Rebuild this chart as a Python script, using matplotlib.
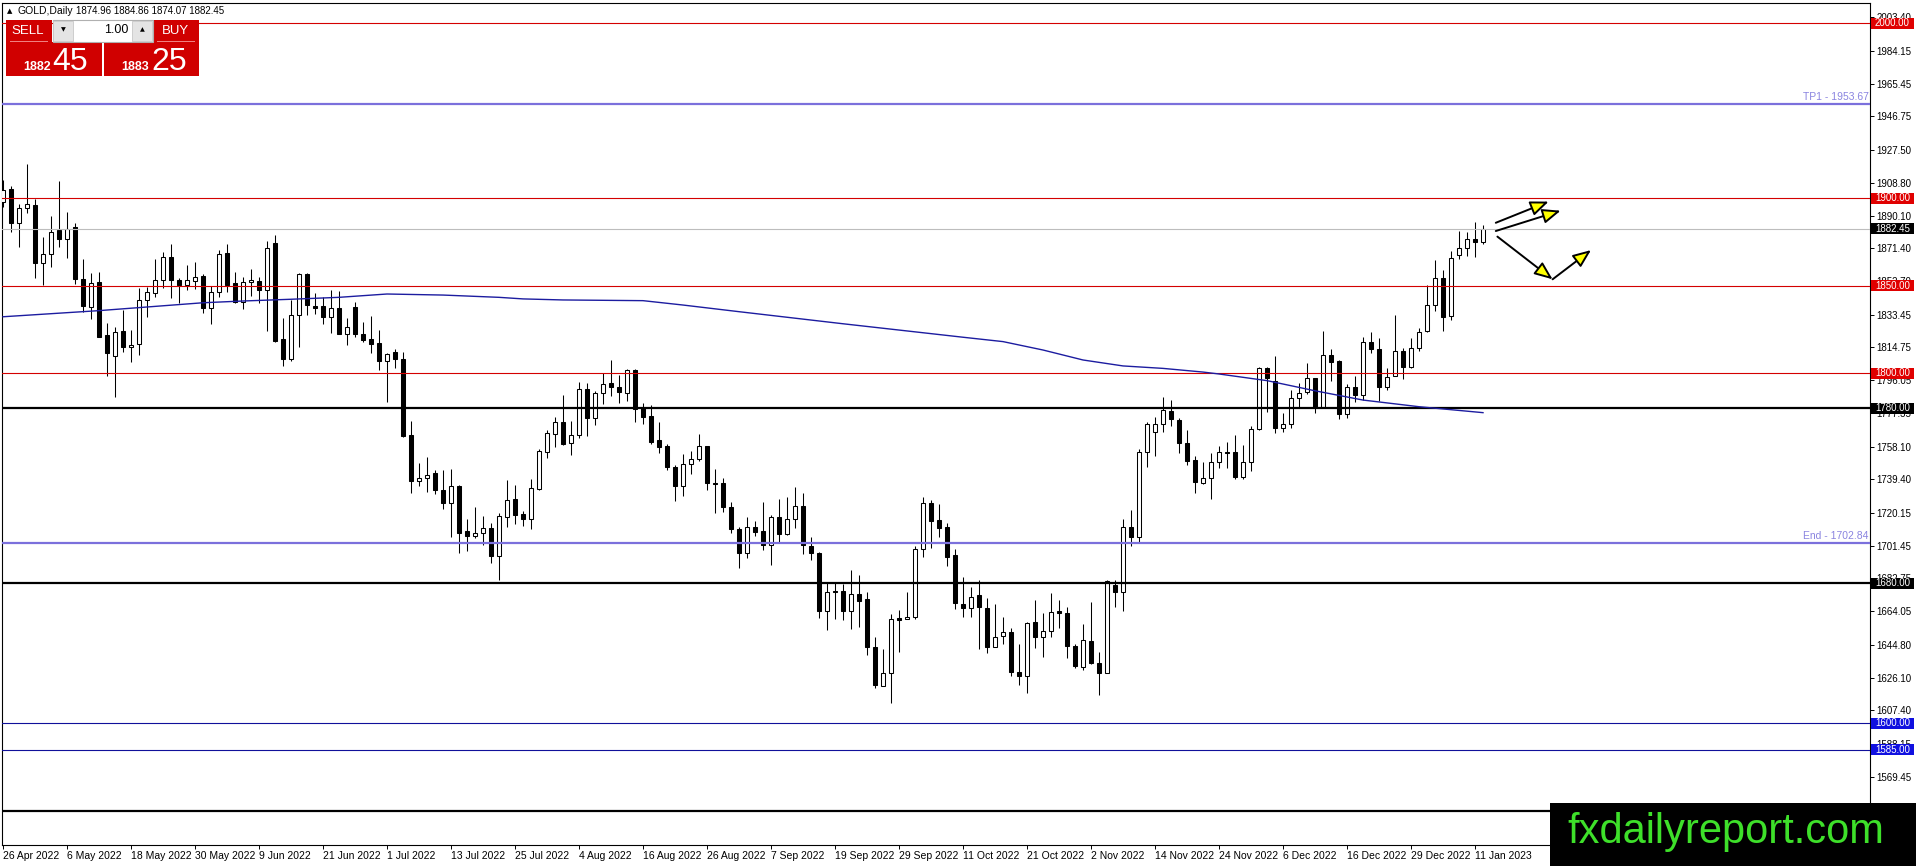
import matplotlib
matplotlib.use("Agg")
import matplotlib.pyplot as plt
import matplotlib.transforms as mtransforms
from matplotlib.patches import Rectangle, FancyArrowPatch
import numpy as np

plt.rcParams['font.family'] = ['Liberation Sans', 'DejaVu Sans']

# daily candles, 26 Apr 2022 .. 12 Jan 2023
opens = [1897.7, 1905.1, 1885.7, 1894.3, 1896.1, 1862.8, 1867.9, 1881.9, 1876.6, 1883.4,
         1853.7, 1837.7, 1852.0, 1821.9, 1810.0, 1824.2, 1814.8, 1816.5, 1841.7, 1845.7,
         1853.1, 1866.4, 1853.3, 1850.6, 1852.6, 1855.8, 1837.1, 1846.3, 1868.7, 1851.4,
         1840.9, 1852.0, 1852.7, 1847.4, 1874.3, 1819.6, 1808.0, 1833.1, 1856.7, 1838.5,
         1838.5, 1832.3, 1837.1, 1822.3, 1837.7, 1822.3, 1819.6, 1817.1, 1806.8, 1812.0,
         1808.0, 1764.7, 1738.6, 1740.0, 1743.2, 1733.3, 1725.7, 1735.6, 1709.9, 1707.0,
         1708.6, 1711.4, 1695.6, 1718.0, 1728.0, 1719.6, 1716.9, 1733.9, 1755.2, 1765.1,
         1772.0, 1760.3, 1764.7, 1791.0, 1774.3, 1788.6, 1794.3, 1792.0, 1788.9, 1801.9,
         1780.3, 1775.6, 1761.9, 1758.6, 1746.6, 1735.6, 1748.2, 1750.9, 1758.5, 1737.5,
         1737.1, 1723.8, 1711.0, 1697.1, 1712.2, 1709.9, 1701.9, 1717.9, 1708.3, 1716.5,
         1724.0, 1701.3, 1697.5, 1664.3, 1675.2, 1675.6, 1664.3, 1673.9, 1671.0, 1643.4,
         1621.5, 1628.6, 1660.0, 1659.8, 1660.9, 1699.4, 1725.7, 1716.2, 1712.0, 1696.2,
         1668.2, 1665.7, 1673.3, 1665.7, 1643.8, 1649.9, 1652.0, 1629.1, 1627.2, 1657.7,
         1649.5, 1652.7, 1664.2, 1663.2, 1644.2, 1632.3, 1647.0, 1634.3, 1628.9, 1679.0,
         1674.8, 1712.0, 1706.3, 1755.2, 1766.3, 1770.8, 1778.4, 1773.3, 1760.0, 1750.4,
         1737.5, 1740.0, 1749.1, 1755.0, 1754.8, 1740.9, 1749.1, 1768.0, 1802.8, 1795.8,
         1768.6, 1770.8, 1785.7, 1789.1, 1797.1, 1780.9, 1810.4, 1807.0, 1776.6, 1792.3,
         1787.4, 1817.7, 1813.7, 1792.0, 1798.6, 1812.9, 1803.8, 1814.3, 1824.3, 1839.0,
         1854.3, 1832.9, 1867.6, 1871.4, 1876.6, 1874.96]
highs = [1910.4, 1907.0, 1896.7, 1919.6, 1899.4, 1877.7, 1889.9, 1909.9, 1892.3, 1886.1,
         1865.1, 1857.5, 1858.1, 1828.5, 1826.6, 1836.2, 1824.7, 1848.6, 1849.1, 1865.3,
         1869.3, 1873.9, 1854.3, 1861.9, 1863.6, 1856.6, 1850.1, 1870.4, 1873.9, 1857.7,
         1855.2, 1859.4, 1854.8, 1875.6, 1879.0, 1831.4, 1841.9, 1857.5, 1857.5, 1845.7,
         1843.4, 1847.6, 1847.2, 1831.4, 1840.6, 1829.1, 1832.6, 1824.6, 1811.8, 1813.7,
         1812.0, 1772.7, 1748.9, 1752.3, 1744.7, 1744.7, 1745.1, 1736.2, 1716.7, 1723.4,
         1718.2, 1714.3, 1720.0, 1739.0, 1736.2, 1721.5, 1739.4, 1756.6, 1767.6, 1775.2,
         1787.6, 1772.7, 1795.2, 1794.3, 1789.9, 1800.0, 1807.6, 1799.0, 1802.3, 1802.3,
         1782.8, 1781.9, 1772.3, 1759.4, 1747.6, 1753.9, 1755.8, 1765.3, 1758.5, 1745.1,
         1740.0, 1726.6, 1712.0, 1718.1, 1715.6, 1726.3, 1719.0, 1728.2, 1729.1, 1734.8,
         1731.4, 1706.6, 1698.0, 1680.0, 1680.0, 1679.4, 1687.6, 1684.7, 1675.2, 1649.1,
         1642.3, 1662.4, 1664.7, 1674.8, 1701.3, 1729.1, 1727.6, 1725.3, 1714.3, 1699.4,
         1683.4, 1678.0, 1681.9, 1671.4, 1668.2, 1660.6, 1654.3, 1645.3, 1658.1, 1670.4,
         1662.8, 1674.6, 1670.4, 1666.6, 1645.1, 1656.7, 1669.5, 1640.6, 1681.9, 1681.9,
         1716.7, 1721.9, 1756.6, 1772.3, 1775.2, 1786.3, 1784.7, 1774.6, 1767.6, 1752.7,
         1749.1, 1754.3, 1758.6, 1760.9, 1764.7, 1759.0, 1769.9, 1803.8, 1803.8, 1809.9,
         1777.1, 1790.4, 1794.3, 1806.0, 1797.1, 1824.2, 1813.7, 1807.6, 1793.9, 1798.4,
         1820.9, 1823.4, 1820.0, 1802.8, 1833.3, 1814.3, 1820.0, 1825.7, 1850.5, 1864.7,
         1859.0, 1869.9, 1881.3, 1880.9, 1886.3, 1884.86]
lows = [1895.2, 1880.9, 1871.9, 1891.8, 1854.3, 1850.5, 1860.9, 1871.9, 1865.7, 1851.0,
        1835.2, 1830.8, 1820.6, 1798.4, 1786.6, 1812.3, 1806.6, 1810.4, 1832.0, 1843.4,
        1848.9, 1842.8, 1840.3, 1847.6, 1848.0, 1834.6, 1828.0, 1843.8, 1846.6, 1840.3,
        1836.6, 1844.2, 1840.0, 1824.3, 1818.0, 1804.3, 1807.2, 1815.2, 1833.3, 1833.9,
        1828.2, 1823.2, 1822.3, 1816.3, 1820.6, 1817.9, 1811.8, 1801.9, 1783.8, 1803.2,
        1763.4, 1731.8, 1735.8, 1732.3, 1730.8, 1722.4, 1706.3, 1697.1, 1698.6, 1705.7,
        1701.9, 1691.8, 1681.9, 1712.3, 1713.9, 1712.7, 1710.8, 1733.3, 1751.8, 1758.1,
        1759.0, 1753.3, 1762.8, 1764.2, 1770.4, 1782.4, 1787.0, 1783.2, 1784.3, 1772.3,
        1771.0, 1759.4, 1754.6, 1744.7, 1727.2, 1729.9, 1742.4, 1750.0, 1733.3, 1720.0,
        1720.9, 1708.9, 1688.6, 1694.6, 1707.2, 1699.0, 1690.4, 1703.8, 1707.6, 1711.4,
        1696.7, 1693.3, 1660.0, 1653.3, 1659.4, 1659.0, 1653.7, 1655.2, 1639.0, 1620.0,
        1621.5, 1611.4, 1640.9, 1659.4, 1659.4, 1694.8, 1700.0, 1706.6, 1690.0, 1665.1,
        1660.6, 1660.9, 1642.3, 1640.0, 1643.4, 1645.3, 1627.0, 1621.9, 1617.1, 1642.8,
        1637.7, 1649.1, 1654.3, 1637.1, 1631.4, 1630.4, 1633.9, 1616.2, 1628.5, 1666.6,
        1664.3, 1701.5, 1703.8, 1746.6, 1752.9, 1766.6, 1769.9, 1754.3, 1747.6, 1731.8,
        1736.6, 1728.0, 1745.7, 1745.7, 1739.4, 1739.4, 1744.3, 1767.6, 1778.0, 1765.7,
        1766.6, 1768.6, 1780.9, 1788.2, 1777.1, 1780.6, 1795.8, 1773.7, 1774.3, 1783.8,
        1784.7, 1811.4, 1784.3, 1790.4, 1798.6, 1796.6, 1802.8, 1812.9, 1823.7, 1835.8,
        1824.3, 1830.4, 1865.1, 1867.0, 1866.6, 1874.07]
closes = [1904.7, 1885.7, 1894.3, 1896.7, 1862.8, 1867.9, 1880.6, 1876.6, 1882.6, 1853.7,
          1838.5, 1851.8, 1820.9, 1811.8, 1823.4, 1814.8, 1816.1, 1841.7, 1846.3, 1853.1,
          1866.4, 1853.1, 1850.6, 1853.1, 1855.2, 1837.1, 1846.3, 1867.9, 1850.6, 1840.9,
          1852.0, 1853.1, 1847.4, 1871.4, 1818.6, 1808.0, 1833.1, 1856.5, 1838.8, 1837.3,
          1832.3, 1837.1, 1822.3, 1826.6, 1822.3, 1819.2, 1816.9, 1806.8, 1810.8, 1808.3,
          1764.2, 1738.6, 1740.0, 1741.9, 1733.3, 1725.7, 1735.6, 1708.9, 1707.0, 1708.9,
          1711.4, 1695.6, 1718.4, 1727.6, 1719.0, 1716.9, 1734.3, 1755.8, 1765.7, 1772.0,
          1759.6, 1764.6, 1791.0, 1774.6, 1788.6, 1793.7, 1792.0, 1789.5, 1801.9, 1779.4,
          1775.2, 1760.9, 1758.1, 1746.6, 1735.6, 1748.2, 1750.9, 1758.5, 1737.5, 1736.7,
          1723.8, 1710.8, 1697.1, 1712.2, 1709.5, 1701.9, 1717.9, 1708.0, 1716.5, 1724.0,
          1701.9, 1697.3, 1664.3, 1674.8, 1675.0, 1664.3, 1673.9, 1670.0, 1643.8, 1621.9,
          1628.6, 1659.4, 1659.2, 1660.6, 1699.4, 1725.7, 1715.8, 1711.4, 1694.8, 1668.6,
          1665.7, 1672.3, 1666.3, 1643.8, 1649.5, 1652.0, 1629.1, 1627.2, 1657.5, 1649.5,
          1652.7, 1663.8, 1662.8, 1644.3, 1632.9, 1647.6, 1634.6, 1628.9, 1681.3, 1674.8,
          1712.0, 1706.3, 1755.2, 1770.8, 1770.8, 1779.0, 1773.7, 1760.0, 1750.0, 1737.7,
          1740.0, 1749.1, 1754.8, 1754.3, 1740.9, 1749.1, 1768.0, 1802.8, 1797.1, 1768.6,
          1770.8, 1785.7, 1788.6, 1797.1, 1780.6, 1810.4, 1806.6, 1776.6, 1792.3, 1787.4,
          1817.7, 1813.7, 1792.0, 1798.1, 1812.9, 1803.8, 1814.3, 1823.4, 1839.0, 1854.3,
          1832.0, 1865.7, 1871.4, 1876.6, 1874.9, 1882.45]

# moving average read at a few bars
ma_bars = [0, 12, 25, 30, 36, 42, 48, 55, 62, 65, 70, 80, 85, 92, 105,
           120, 125, 130, 135, 140, 145, 150, 152, 158, 164, 170, 177, 185]
ma_vals = [1832.3, 1835.8, 1840.3, 1841.3, 1842.3, 1843.4, 1845.3, 1844.7, 1843.4, 1842.5,
           1841.9, 1841.5, 1839.0, 1835.2, 1828.3, 1820.6, 1818.1, 1813.3, 1807.6, 1804.2,
           1802.8, 1800.7, 1799.6, 1795.8, 1790.0, 1784.7, 1780.9, 1777.5]

date_labels = ["26 Apr 2022", "6 May 2022", "18 May 2022", "30 May 2022", "9 Jun 2022",
               "21 Jun 2022", "1 Jul 2022", "13 Jul 2022", "25 Jul 2022", "4 Aug 2022",
               "16 Aug 2022", "26 Aug 2022", "7 Sep 2022", "19 Sep 2022", "29 Sep 2022",
               "11 Oct 2022", "21 Oct 2022", "2 Nov 2022", "14 Nov 2022", "24 Nov 2022",
               "6 Dec 2022", "16 Dec 2022", "29 Dec 2022", "11 Jan 2023"]
price_ticks = [2003.40, 1984.15, 1965.45, 1946.75, 1927.50, 1908.80, 1890.10, 1871.40,
               1852.70, 1833.45, 1814.75, 1796.05, 1777.35, 1758.10, 1739.40, 1720.15,
               1701.45, 1682.75, 1664.05, 1644.80, 1626.10, 1607.40, 1588.15, 1569.45, 1550.75]

red_levels = [2000.0, 1900.0, 1850.0, 1800.0]
black_levels = [1780.0, 1680.0, 1550.0]
blue_levels = [1600.0, 1585.0]
tp1 = 1953.67
end_level = 1702.84
bid = 1882.45

W, H = 1916, 866
fig = plt.figure(figsize=(W / 100, H / 100), dpi=100)
fig.patch.set_facecolor('white')
ax = fig.add_axes([2 / W, 21 / H, 1868 / W, 842.3 / H])
ax.set_xlim(-0.125, 233.375)
ax.set_ylim(1530.45, 2011.76)

o = np.array(opens); h = np.array(highs); l = np.array(lows); c = np.array(closes)
x = np.arange(len(o))
up = c >= o
ax.vlines(x, l, h, color='black', lw=0.75, zorder=3)
body_bot = np.minimum(o, c)
body_h = np.maximum(np.abs(c - o), 0.45)
ax.bar(x, body_h, bottom=body_bot, width=0.5,
       color=['white' if u else 'black' for u in up],
       edgecolor='black', linewidth=0.75, zorder=4)

# horizontal levels
for v in red_levels:
    ax.axhline(v, color='#d40000', lw=0.8, zorder=5)
for v in black_levels:
    ax.axhline(v, color='black', lw=1.6, zorder=5)
for v in blue_levels:
    ax.axhline(v, color='#10109a', lw=0.8, zorder=5)
ax.axhline(bid, color='#bdbdbd', lw=0.8, zorder=5)
for v in (tp1, end_level):
    ax.axhline(v, color='#7b70dc', lw=1.6, zorder=5)
ax.text(233.2, tp1 + 1.3, f"TP1 - {tp1:.2f}", color='#8a84e0', fontsize=7.5,
        ha='right', va='bottom', zorder=6)
ax.text(233.2, end_level + 1.3, f"End - {end_level:.2f}", color='#8a84e0', fontsize=7.5,
        ha='right', va='bottom', zorder=6)

ax.plot(ma_bars, ma_vals, color='#1c1ca0', lw=1.0, zorder=6)

# drawn arrows
arrow_pts = [((186.6, 1886.0), (193.2, 1898.1)),
             ((186.6, 1881.3), (194.7, 1892.9)),
             ((186.8, 1878.1), (193.7, 1853.7)),
             ((193.7, 1853.7), (198.5, 1870.4))]
for a, b in arrow_pts:
    ax.add_patch(FancyArrowPatch(a, b, arrowstyle='-|>,head_length=11,head_width=4.5',
                                 mutation_scale=1, fc='#ffff00', ec='black', lw=1.4,
                                 shrinkA=0, shrinkB=0, zorder=7))

# axes look
for s in ax.spines.values():
    s.set_color('black')
    s.set_linewidth(0.8)
ax.yaxis.tick_right()
ax.set_yticks(price_ticks)
ax.set_yticklabels([f"{v:.2f}" for v in price_ticks])
ax.tick_params(axis='y', direction='out', length=3, width=0.7, pad=1.5, labelsize=7)
ax.set_xticks(np.arange(0, 8 * len(date_labels), 8))
ax.set_xticklabels(date_labels)
ax.tick_params(axis='x', direction='out', length=3, width=0.7, pad=1, labelsize=7.5)
for lab in ax.get_xticklabels():
    lab.set_ha('left')

# price boxes on the right scale
trans = mtransforms.blended_transform_factory(fig.transFigure, ax.transData)
box_h = 11 / 1.75
def price_box(v, bg):
    ax.add_patch(Rectangle((1871 / W, v - box_h / 2), 43 / W, box_h, transform=trans,
                           facecolor=bg, edgecolor='none', clip_on=False, zorder=10))
    ax.text(1875 / W, v, f"{v:.2f}", transform=trans, color='white', fontsize=7,
            ha='left', va='center', zorder=11, clip_on=False)

for v in red_levels:
    price_box(v, '#e00000')
price_box(bid, 'black')
price_box(1780.0, 'black')
price_box(1680.0, 'black')
for v in blue_levels:
    price_box(v, '#1010e0')

def px_rect(x0, y0, x1, y1, **kw):
    r = Rectangle((x0 / W, 1 - y1 / H), (x1 - x0) / W, (y1 - y0) / H,
                  transform=fig.transFigure, **kw)
    fig.add_artist(r)

def px_text(px, py, s, **kw):
    fig.text(px / W, 1 - py / H, s, **kw)

# header
px_text(7, 10.7, "\u25b2", fontsize=5, va='center', family=['DejaVu Sans'])
px_text(18, 10.7, "GOLD,Daily", fontsize=7.5, va='center')
px_text(76, 10.7, "1874.96 1884.86 1874.07 1882.45", fontsize=7, va='center')

# one-click trading panel
red = '#d00000'
px_rect(6, 20, 52, 42, facecolor=red, edgecolor='none', zorder=20)
px_rect(153, 20, 199, 42, facecolor=red, edgecolor='none', zorder=20)
px_rect(6, 42.5, 102, 76, facecolor=red, edgecolor='none', zorder=20)
px_rect(104, 42.5, 199, 76, facecolor=red, edgecolor='none', zorder=20)
px_rect(52.5, 20, 152.5, 41.5, facecolor='white', edgecolor='#b0b0b0', lw=0.8, zorder=20)
px_rect(53, 20.5, 73, 41, facecolor='#e4e4e4', edgecolor='#c8c8c8', lw=0.6, zorder=21)
px_rect(132, 20.5, 152, 41, facecolor='#e4e4e4', edgecolor='#c8c8c8', lw=0.6, zorder=21)
px_rect(10, 41.2, 48, 42, facecolor='#f08080', edgecolor='none', zorder=21)
px_rect(157, 41.2, 195, 42, facecolor='#f08080', edgecolor='none', zorder=21)
px_text(28, 31, "SELL", color='white', fontsize=9.5, ha='center', va='center', zorder=22)
px_text(175, 31, "BUY", color='white', fontsize=9.5, ha='center', va='center', zorder=22)
px_text(63, 30, "\u25bc", fontsize=4.5, ha='center', va='center', zorder=22, family=['DejaVu Sans'])
px_text(142, 30, "\u25b2", fontsize=4.5, ha='center', va='center', zorder=22, family=['DejaVu Sans'])
px_text(128, 30, "1.00", fontsize=9, ha='right', va='center', zorder=22)
px_text(23, 70, "1882", color='white', fontsize=9, fontweight='bold', va='baseline', zorder=22)
px_text(52, 70, "45", color='white', fontsize=23, va='baseline', zorder=22)
px_text(121, 70, "1883", color='white', fontsize=9, fontweight='bold', va='baseline', zorder=22)
px_text(151, 70, "25", color='white', fontsize=23, va='baseline', zorder=22)

# watermark
px_rect(1550, 803, 1916, 866, facecolor='black', edgecolor='none', zorder=30)
px_text(1567, 843, "fxdailyreport.com", color='#3ee02a', fontsize=30, va='baseline', zorder=31)

fig.savefig("out.png", dpi=100)
